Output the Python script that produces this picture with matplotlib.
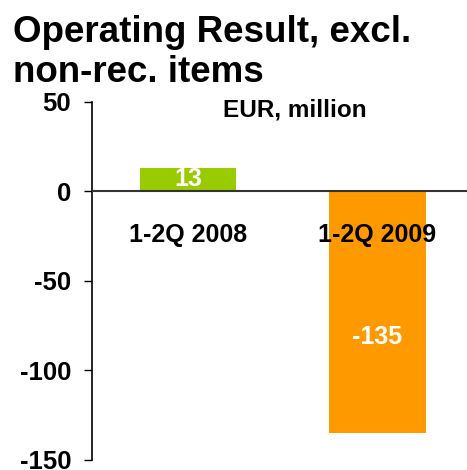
import matplotlib

matplotlib.use("Agg")
import matplotlib.pyplot as plt

plt.rcParams["font.family"] = ["Liberation Sans", "DejaVu Sans"]
plt.rcParams["font.weight"] = "bold"

# data
categories = ["1-2Q 2008", "1-2Q 2009"]
values = [13, -135]
bar_colors = ["#99CC00", "#FF9900"]
value_label_y = [3, -85]
yticks = [50, 0, -50, -100, -150]

fig = plt.figure(figsize=(4.67, 4.70), dpi=100)
ax = fig.add_axes([0.197, 0.0213, 0.803, 0.7617])

x = list(range(len(categories)))
ax.bar(x, values, width=0.507, color=bar_colors, zorder=2)
ax.axhline(0, color="#333333", lw=1.5, zorder=3)

for xi, v, ly in zip(x, values, value_label_y):
    ax.text(xi, ly, f"{v}", ha="center", va="baseline", color="white",
            fontsize=18, fontweight="bold", zorder=4)
for xi, c in zip(x, categories):
    ax.text(xi, -28, c, ha="center", va="baseline", color="black",
            fontsize=18, fontweight="bold", zorder=4)

ax.set_xlim(-0.5066, 1.472)
ax.set_ylim(-150, 50)
ax.set_yticks(yticks)
ax.set_yticklabels([str(t) for t in yticks], fontsize=18.5, fontweight="bold")
ax.tick_params(axis="y", length=6, width=1, pad=9)
ax.set_xticks([])
for s in ["top", "right", "bottom"]:
    ax.spines[s].set_visible(False)
ax.spines["left"].set_linewidth(1.2)

# unit label, centred between the bars
ax.text(0.565, 42, "EUR, million", ha="center", va="baseline",
        fontsize=17.5, fontweight="bold")

fig.text(13 / 467, 1 - 42 / 470, "Operating Result, excl.", ha="left",
         va="baseline", fontsize=26.5, fontweight="bold")
fig.text(13 / 467, 1 - 82 / 470, "non-rec. items", ha="left",
         va="baseline", fontsize=26.5, fontweight="bold")

fig.savefig("out.png", dpi=100)
